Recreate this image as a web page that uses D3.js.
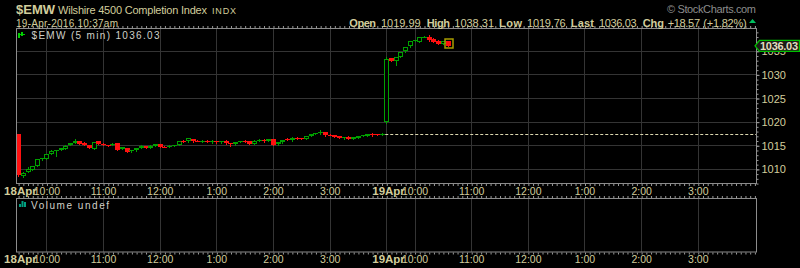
<!DOCTYPE html>
<html>
<head>
<meta charset="utf-8">
<script src="https://cdn.jsdelivr.net/npm/d3@7"></script>
<style>
body { margin: 0; background: #000; }
svg { display: block; }
text { font-family: "Liberation Sans", Arial, sans-serif; }
</style>
</head>
<body>
<script>
var w = 800; // width
var h = 268; // height

// two sessions of 5 min bars, 78 bars per full day (9:30 - 4:00)
var sessions = ["18Apr", "19Apr"];
var barsPerSession = 78;
var timeTicks = ["10:00", "11:00", "12:00", "1:00", "2:00", "3:00"];
var priceTicks = [1010, 1015, 1020, 1025, 1030, 1035];

// $EMW 5 min bars, 18 Apr 9:30 .. 19 Apr 10:35
var opens = [1017.30, 1008.50, 1009.40, 1009.80, 1010.60, 1012.00, 1012.10, 1013.20, 1013.70, 1014.05,
  1014.20, 1015.00, 1015.45, 1015.95, 1015.40, 1015.10, 1014.30, 1015.95, 1015.35, 1015.05,
  1015.00, 1015.40, 1014.20, 1014.45, 1013.70, 1013.90, 1014.45, 1014.80, 1014.45, 1014.90,
  1015.20, 1014.70, 1014.60, 1014.90, 1015.00, 1015.95, 1015.80, 1016.30, 1016.00, 1015.80,
  1016.00, 1015.60, 1015.90, 1015.60, 1015.90, 1015.40, 1015.20, 1015.70, 1016.00, 1015.80,
  1015.35, 1016.00, 1016.20, 1015.90, 1016.35, 1015.30, 1015.60, 1016.30, 1016.05, 1016.50,
  1016.45, 1016.35, 1017.00, 1017.40, 1017.50, 1017.70, 1017.25, 1017.15, 1017.00, 1016.45,
  1016.70, 1016.40, 1016.50, 1017.00, 1017.00, 1017.40, 1017.30, 1017.15,
  1019.99, 1033.45, 1032.75, 1033.70, 1034.85, 1035.90, 1037.10, 1036.80, 1037.90, 1037.85,
  1037.40, 1037.15, 1036.45, 1037.10];
var highs = [1017.35, 1009.25, 1010.50, 1010.70, 1012.05, 1012.40, 1013.25, 1013.90, 1014.10, 1014.45,
  1014.95, 1015.50, 1016.35, 1016.00, 1015.60, 1015.15, 1015.75, 1016.00, 1015.40, 1015.10,
  1015.40, 1015.45, 1014.65, 1014.50, 1014.10, 1014.40, 1015.00, 1014.85, 1014.95, 1015.35,
  1015.25, 1014.75, 1014.95, 1015.15, 1015.85, 1016.05, 1016.50, 1016.35, 1016.05, 1016.05,
  1016.05, 1016.10, 1015.95, 1015.95, 1016.10, 1015.45, 1015.75, 1015.95, 1016.05, 1015.85,
  1016.05, 1016.25, 1016.25, 1016.35, 1016.40, 1015.70, 1016.20, 1016.50, 1016.65, 1016.75,
  1016.50, 1017.05, 1017.45, 1017.65, 1018.15, 1017.75, 1017.30, 1017.20, 1017.05, 1016.75,
  1016.90, 1016.75, 1017.00, 1017.25, 1017.45, 1017.65, 1017.35, 1017.50,
  1033.70, 1033.50, 1033.75, 1034.75, 1035.80, 1037.15, 1037.25, 1037.90, 1038.05, 1038.31,
  1037.75, 1037.20, 1037.10, 1037.15];
var lows = [1008.40, 1008.30, 1009.30, 1009.70, 1010.55, 1011.90, 1012.00, 1013.10, 1012.65, 1014.00,
  1014.15, 1014.95, 1015.40, 1015.25, 1014.95, 1014.35, 1014.25, 1015.25, 1014.95, 1014.85,
  1014.95, 1014.05, 1014.15, 1013.60, 1013.65, 1013.85, 1014.40, 1014.40, 1014.40, 1014.85,
  1014.55, 1014.55, 1014.55, 1014.85, 1014.95, 1015.75, 1015.60, 1015.75, 1015.85, 1015.75,
  1015.70, 1015.55, 1015.55, 1015.55, 1015.35, 1014.90, 1015.15, 1015.65, 1015.75, 1015.25,
  1015.30, 1015.95, 1015.75, 1015.85, 1015.05, 1015.00, 1015.55, 1016.05, 1016.00, 1016.30,
  1016.30, 1016.30, 1016.95, 1017.35, 1017.45, 1016.90, 1017.10, 1016.75, 1016.55, 1016.30,
  1016.25, 1016.35, 1016.45, 1016.95, 1016.95, 1017.05, 1017.10, 1017.10,
  1019.76, 1032.75, 1031.90, 1033.65, 1034.80, 1035.85, 1037.05, 1036.75, 1037.85, 1037.15,
  1036.75, 1036.35, 1036.40, 1036.00];
var closes = [1008.60, 1009.20, 1010.00, 1010.60, 1012.00, 1012.30, 1013.20, 1013.85, 1014.05, 1014.40,
  1014.90, 1015.45, 1015.95, 1015.30, 1015.00, 1014.40, 1015.70, 1015.30, 1015.00, 1014.90,
  1015.30, 1014.10, 1014.60, 1013.65, 1014.05, 1014.35, 1014.80, 1014.45, 1014.90, 1015.20,
  1014.60, 1014.60, 1014.90, 1015.10, 1015.80, 1015.80, 1016.45, 1015.80, 1015.90, 1016.00,
  1015.75, 1015.90, 1015.60, 1015.90, 1015.40, 1015.20, 1015.70, 1015.90, 1015.80, 1015.30,
  1016.00, 1016.20, 1015.80, 1016.30, 1015.10, 1015.65, 1016.15, 1016.10, 1016.60, 1016.35,
  1016.35, 1017.00, 1017.40, 1017.60, 1017.75, 1017.20, 1017.15, 1016.80, 1016.60, 1016.70,
  1016.30, 1016.70, 1016.95, 1017.20, 1017.40, 1017.10, 1017.15, 1017.46,
  1033.30, 1032.80, 1033.70, 1034.70, 1035.75, 1037.10, 1037.20, 1037.85, 1038.00, 1037.20,
  1036.95, 1036.40, 1037.05, 1036.03];
var prevClose = 1017.46;

var green = "#00a000", red = "#ff1010", grid = "#343434", frame = "#8c8c8c", khaki = "#d2cd9c";

// slot number of a clock label inside a session (5 min steps after 9:30)
function slotOf(t) {
  var p = t.split(":"), hr = +p[0];
  if (hr < 9) hr += 12;
  return (hr * 60 + (+p[1]) - 570) / 5;
}

var svg = d3.select("body").append("svg").attr("width", w).attr("height", h);
svg.append("rect").attr("width", w).attr("height", h).attr("fill", "#000");

// scales
var x = d3.scaleLinear().domain([0, barsPerSession * sessions.length]).range([18.1, 754.4]);
var y = d3.scaleLinear().domain([1006.8, 1039.6]).range([184, 29]);

var pL = 16.5, pR = 756.5, pT = 28.5, pB = 183.5; // price panel
var vT = 198.5, vB = 252; // volume panel

// vertical grid positions
var vSlots = [];
sessions.forEach(function (s, k) {
  if (k > 0) vSlots.push(k * barsPerSession);
  timeTicks.forEach(function (t) { vSlots.push(k * barsPerSession + slotOf(t)); });
});

function vgrid(top, bottom) {
  svg.append("g").selectAll("line").data(vSlots).enter().append("line")
    .attr("x1", function (d) { return Math.round(x(d)) + 0.5; })
    .attr("x2", function (d) { return Math.round(x(d)) + 0.5; })
    .attr("y1", top).attr("y2", bottom)
    .attr("stroke", grid);
}
vgrid(pT, pB);
vgrid(vT, vB);

// horizontal grid
svg.append("g").selectAll("line").data(priceTicks).enter().append("line")
  .attr("x1", pL).attr("x2", pR)
  .attr("y1", function (d) { return Math.round(y(d)) + 0.5; })
  .attr("y2", function (d) { return Math.round(y(d)) + 0.5; })
  .attr("stroke", grid);

// small tick rows above / below the panels
var allSlots = d3.range(0, barsPerSession * sessions.length + 1);
function tickRow(ypos, up) {
  var ax = (up ? d3.axisTop(x) : d3.axisBottom(x)).tickValues(allSlots).tickSize(2).tickFormat("");
  var g = svg.append("g").attr("transform", "translate(0," + ypos + ")").call(ax);
  g.select(".domain").remove();
  g.selectAll("line").attr("stroke", "#9a9a9a")
    .attr("transform", function () { return "translate(" + 0.5 + ",0)"; });
}
tickRow(pB + 0.5, false);
tickRow(pT - 0.5, true);
tickRow(vT - 0.5, true);
tickRow(vB + 0.5, false);

// previous close dashed line
svg.append("line")
  .attr("x1", x(barsPerSession) - 1).attr("x2", pR)
  .attr("y1", Math.round(y(prevClose)) + 0.5).attr("y2", Math.round(y(prevClose)) + 0.5)
  .attr("stroke", "#ddd8b0").attr("stroke-dasharray", "3,2");

// candles
svg.append("clipPath").attr("id", "pc").append("rect")
  .attr("x", pL + 0.5).attr("y", pT + 0.5).attr("width", pR - pL - 1).attr("height", pB - pT - 1);
var bars = closes.map(function (c, i) {
  return { i: i, o: opens[i], h: highs[i], l: lows[i], c: c };
});
var cg = svg.append("g").attr("clip-path", "url(#pc)");
var candle = cg.selectAll("g").data(bars).enter().append("g");

candle.append("line")
  .attr("x1", function (d) { return Math.round(x(d.i)) + 0.5; })
  .attr("x2", function (d) { return Math.round(x(d.i)) + 0.5; })
  .attr("y1", function (d) { return Math.round(y(d.h)); })
  .attr("y2", function (d) { return Math.round(y(d.l)) + 1; })
  .attr("stroke", function (d) { return d.c >= d.o ? green : red; });

candle.each(function (d) {
  var cx = Math.round(x(d.i));
  var top = Math.round(y(Math.max(d.o, d.c)));
  var bot = Math.round(y(Math.min(d.o, d.c)));
  var g = d3.select(this);
  if (d.c < d.o) {
    g.append("rect").attr("x", cx - 2).attr("y", top).attr("width", 5)
      .attr("height", Math.max(bot - top, 1)).attr("fill", red);
  } else if (bot - top < 2) {
    g.append("rect").attr("x", cx - 2).attr("y", top).attr("width", 5)
      .attr("height", Math.max(bot - top, 1)).attr("fill", green);
  } else {
    g.append("rect").attr("x", cx - 1.5).attr("y", top + 0.5).attr("width", 4)
      .attr("height", bot - top - 1).attr("fill", "#000").attr("stroke", green);
  }
});

// highlight box on the latest bar
var last = bars[bars.length - 1];
svg.append("rect")
  .attr("x", Math.round(x(last.i)) - 3).attr("y", Math.round(y(last.o)) - 2)
  .attr("width", 8).attr("height", Math.round(y(last.c)) - Math.round(y(last.o)) + 4)
  .attr("fill", "none").attr("stroke", "#a89c00").attr("stroke-width", 1.5);

// panel frames
svg.append("rect").attr("x", pL).attr("y", pT).attr("width", pR - pL).attr("height", pB - pT)
  .attr("fill", "none").attr("stroke", frame);
svg.append("rect").attr("x", pL).attr("y", vT).attr("width", pR - pL).attr("height", vB - vT)
  .attr("fill", "none").attr("stroke", frame);

// right price axis
var minor = d3.range(1007, 1040);
var yaMinor = svg.append("g").attr("transform", "translate(" + pR + ",0.5)")
  .call(d3.axisRight(y).tickValues(minor).tickSize(2).tickFormat(""));
yaMinor.select(".domain").remove();
yaMinor.selectAll("line").attr("stroke", "#9a9a9a");
var ya = svg.append("g").attr("transform", "translate(" + pR + ",0.5)")
  .call(d3.axisRight(y).tickValues(priceTicks).tickSize(3).tickPadding(2).tickFormat(d3.format("d")));
ya.select(".domain").remove();
ya.selectAll("line").attr("stroke", "#9a9a9a");
ya.selectAll("text").attr("fill", khaki).attr("font-size", "11px")
  .attr("font-family", "'Liberation Sans', Arial, sans-serif");

// time axes under both panels
var tSlots = [], tLabels = [];
sessions.forEach(function (s, k) {
  timeTicks.forEach(function (t) { tSlots.push(k * barsPerSession + slotOf(t)); tLabels.push(t); });
});
function timeAxis(ypos) {
  var ax = d3.axisBottom(x).tickValues(tSlots).tickSize(0).tickPadding(0)
    .tickFormat(function (d, i) { return tLabels[i]; });
  var g = svg.append("g").attr("transform", "translate(0," + ypos + ")").call(ax);
  g.select(".domain").remove();
  g.selectAll("text").attr("fill", khaki).attr("font-size", "10.5px").attr("dy", 0)
    .attr("font-family", "'Liberation Sans', Arial, sans-serif");
  svg.append("g").selectAll("text").data(sessions).enter().append("text")
    .attr("x", function (d, k) { return x(k * barsPerSession) - 14; })
    .attr("y", ypos).attr("fill", khaki).attr("font-size", "11.5px").attr("font-weight", "bold")
    .text(function (d) { return d; });
}
timeAxis(195);
timeAxis(263);

// last value tag
var ly = y(last.c);
svg.append("path")
  .attr("d", "M755," + ly + "L759.5," + (ly - 5.5) + "L799.5," + (ly - 5.5) + "L799.5," + (ly + 5.5) + "L759.5," + (ly + 5.5) + "Z")
  .attr("fill", "#1c1c16").attr("stroke", "#00c000").attr("stroke-width", 1.3);
svg.append("text").attr("x", 760).attr("y", ly + 4).attr("font-size", "11px").attr("font-weight", "bold")
  .attr("fill", "#e2dec0").attr("textLength", 38).text(last.c.toFixed(2));

// header
svg.append("text").attr("x", 16).attr("y", 14).attr("font-size", "13px").attr("font-weight", "bold")
  .attr("fill", khaki).text("$EMW");
svg.append("text").attr("x", 58).attr("y", 13.5).attr("font-size", "11px").attr("fill", khaki)
  .attr("textLength", 149).text("Wilshire 4500 Completion Index");
svg.append("text").attr("x", 212).attr("y", 13.5).attr("font-size", "9px").attr("fill", khaki)
  .attr("textLength", 24).text("INDX");
svg.append("text").attr("x", 16).attr("y", 26.5).attr("font-size", "10px").attr("fill", khaki)
  .attr("textLength", 102).text("19-Apr-2016 10:37am");
svg.append("text").attr("x", 756).attr("y", 13).attr("font-size", "11px").attr("fill", "#8c8c8c")
  .attr("text-anchor", "end").attr("textLength", 89).text("\u00a9 StockCharts.com");

var lo = d3.min(lows.slice(barsPerSession)), hi = d3.max(highs.slice(barsPerSession));
var chg = last.c - prevClose;
var pct = Math.floor(chg / prevClose * 10000) / 100;
// [text, x, bold, width]
var quote = [
  ["Open", 349.3, true, 26.7], [opens[barsPerSession].toFixed(2), 381, false, 39.7],
  ["High", 426.7, true, 23.3], [hi.toFixed(2), 454.3, false, 39.7],
  ["Low", 499, true, 23], [lo.toFixed(2), 527, false, 38.7],
  ["Last", 570.7, true, 23.3], [last.c.toFixed(2), 599, false, 37.7],
  ["Chg", 642.7, true, 21.3], ["+" + chg.toFixed(2), 667.7, false, 32.3],
  ["(+" + pct.toFixed(2) + "%)", 703.3, false, 43.4]
];
quote.forEach(function (q) {
  svg.append("text").attr("x", q[1]).attr("y", 26.5).attr("font-size", "11px")
    .attr("font-weight", q[2] ? "bold" : "normal").attr("textLength", q[3])
    .attr("fill", khaki).text(q[0]);
});
svg.append("path").attr("d", "M749,23L752.5,19L756,23Z").attr("fill", "#00c060");

// legends
svg.append("rect").attr("x", 18).attr("y", 33).attr("width", 2).attr("height", 5).attr("fill", "#00d000");
svg.append("rect").attr("x", 21).attr("y", 32).attr("width", 2).attr("height", 4).attr("fill", "#00d000");
svg.append("line").attr("x1", 18).attr("x2", 25).attr("y1", 34.5).attr("y2", 34.5).attr("stroke", "#00d000");
svg.append("text").attr("x", 31.5).attr("y", 38.5).attr("font-size", "10px").attr("fill", "#d0d0c8")
  .attr("font-family", "'DejaVu Sans', sans-serif").attr("textLength", 128)
  .text("$EMW (5 min) " + last.c.toFixed(2));

[[19, 204, 3], [21.5, 201, 6], [24, 202, 5]].forEach(function (b) {
  svg.append("rect").attr("x", b[0]).attr("y", b[1]).attr("width", 2).attr("height", b[2]).attr("fill", "#00a080");
});
svg.append("text").attr("x", 31).attr("y", 208.5).attr("font-size", "10px").attr("fill", "#d0d0c8")
  .attr("font-family", "'DejaVu Sans', sans-serif").attr("textLength", 78).text("Volume undef");
</script>
</body>
</html>
